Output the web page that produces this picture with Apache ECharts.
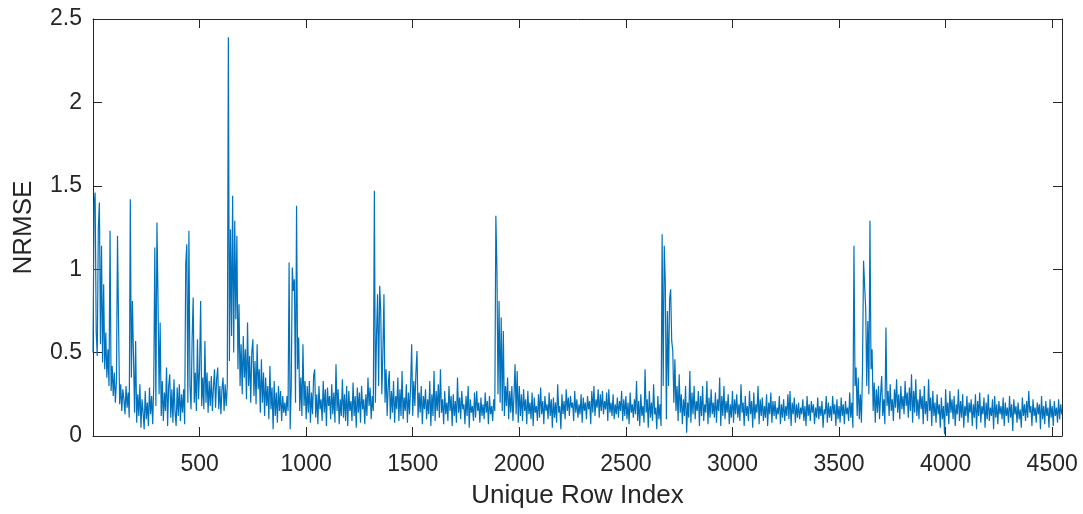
<!DOCTYPE html>
<html>
<head>
<meta charset="utf-8">
<script src="https://cdn.jsdelivr.net/npm/echarts@6/dist/echarts.min.js"></script>
<style>
  html, body { margin: 0; padding: 0; background: #fff; }
  #chart { width: 1083px; height: 514px; }
</style>
</head>
<body>
<div id="chart"></div>
<script>
// row index step between samples
var rowStep = 5;

// NRMSE per unique row: rows 0-495, 500-995, ... (one value per 5 rows)
var nrmse0000 = [0.50, 1.38, 1.46, 0.62, 0.48, 1.25, 1.40, 0.55, 1.14, 0.44,
                 0.91, 0.40, 0.62, 0.35, 0.52, 0.30, 1.23, 0.27, 0.42, 0.24,
                 0.38, 0.20, 0.33, 1.20, 0.67, 0.19, 0.31, 0.15, 0.28, 0.22,
                 0.13, 0.30, 0.17, 0.26, 0.11, 1.42, 0.35, 0.81, 0.80, 0.14,
                 0.57, 0.08, 0.25, 0.12, 0.31, 0.05, 0.22, 0.14, 0.04, 0.27,
                 0.10, 0.20, 0.06, 0.29, 0.13, 0.24, 0.07, 0.30, 1.13, 0.18,
                 1.28, 0.82, 0.25, 0.68, 0.12, 0.33, 0.09, 0.26, 0.15, 0.41,
                 0.06, 0.30, 0.37, 0.11, 0.28, 0.08, 0.34, 0.14, 0.06, 0.29,
                 0.12, 0.31, 0.09, 0.25, 0.14, 0.28, 0.07, 1.03, 1.15, 0.20,
                 1.23, 0.30, 0.16, 0.58, 0.83, 0.20, 0.38, 0.15, 0.58, 0.22];
var nrmse0500 = [0.40, 0.81, 0.18, 0.35, 0.16, 0.57, 0.20, 0.38, 0.14, 0.33,
                 0.18, 0.36, 0.15, 0.29, 0.40, 0.17, 0.34, 0.41, 0.16, 0.30,
                 0.13, 0.28, 0.35, 0.15, 0.31, 0.18, 0.30, 2.39, 0.45, 1.24,
                 0.60, 1.44, 0.50, 1.29, 0.70, 1.20, 0.40, 0.79, 0.30, 0.55,
                 0.25, 0.60, 0.35, 0.52, 0.22, 0.68, 0.30, 0.48, 0.20, 0.50,
                 0.58, 0.24, 0.45, 0.19, 0.55, 0.28, 0.40, 0.14, 0.46, 0.20,
                 0.38, 0.12, 0.35, 0.18, 0.30, 0.10, 0.42, 0.16, 0.29, 0.04,
                 0.33, 0.12, 0.26, 0.08, 0.30, 0.15, 0.27, 0.09, 0.24, 0.14,
                 0.20, 0.12, 0.24, 0.15, 1.04, 0.04, 0.30, 1.01, 0.87, 0.94,
                 0.20, 1.38, 0.40, 0.59, 0.15, 0.35, 0.12, 0.55, 0.18, 0.33];
var nrmse1000 = [0.10, 0.30, 0.14, 0.33, 0.08, 0.26, 0.13, 0.36, 0.40, 0.11,
                 0.25, 0.07, 0.30, 0.16, 0.22, 0.09, 0.33, 0.14, 0.28, 0.06,
                 0.29, 0.18, 0.24, 0.10, 0.31, 0.13, 0.26, 0.08, 0.43, 0.15,
                 0.28, 0.07, 0.22, 0.12, 0.34, 0.11, 0.25, 0.09, 0.30, 0.06,
                 0.27, 0.15, 0.21, 0.09, 0.32, 0.12, 0.24, 0.05, 0.29, 0.14,
                 0.26, 0.08, 0.30, 0.16, 0.22, 0.07, 0.25, 0.12, 0.35, 0.18,
                 0.29, 0.10, 0.24, 0.15, 1.47, 0.20, 0.60, 0.85, 0.30, 0.90,
                 0.75, 0.25, 0.50, 0.85, 0.20, 0.40, 0.12, 0.30, 0.39, 0.10,
                 0.27, 0.14, 0.33, 0.08, 0.24, 0.16, 0.35, 0.09, 0.28, 0.12,
                 0.39, 0.10, 0.23, 0.15, 0.31, 0.08, 0.26, 0.13, 0.30, 0.55];
var nrmse1500 = [0.12, 0.33, 0.18, 0.38, 0.51, 0.11, 0.26, 0.14, 0.30, 0.07,
                 0.24, 0.16, 0.28, 0.10, 0.22, 0.13, 0.33, 0.06, 0.25, 0.12,
                 0.39, 0.09, 0.27, 0.15, 0.31, 0.11, 0.40, 0.14, 0.22, 0.07,
                 0.27, 0.13, 0.20, 0.09, 0.30, 0.15, 0.24, 0.06, 0.25, 0.12,
                 0.21, 0.08, 0.35, 0.14, 0.23, 0.10, 0.27, 0.16, 0.19, 0.07,
                 0.24, 0.12, 0.30, 0.05, 0.22, 0.14, 0.18, 0.09, 0.26, 0.11,
                 0.27, 0.15, 0.20, 0.08, 0.23, 0.12, 0.19, 0.10, 0.26, 0.14,
                 0.21, 0.07, 0.24, 0.13, 0.18, 0.09, 0.22, 0.15, 1.32, 1.00,
                 0.25, 0.81, 0.20, 0.71, 0.15, 0.63, 0.12, 0.30, 0.18, 0.35,
                 0.10, 0.27, 0.14, 0.30, 0.09, 0.24, 0.43, 0.13, 0.39, 0.08];
var nrmse2000 = [0.30, 0.12, 0.25, 0.09, 0.28, 0.15, 0.22, 0.07, 0.27, 0.13,
                 0.20, 0.10, 0.26, 0.06, 0.23, 0.14, 0.18, 0.09, 0.25, 0.11,
                 0.29, 0.13, 0.21, 0.07, 0.24, 0.15, 0.19, 0.10, 0.26, 0.12,
                 0.22, 0.05, 0.23, 0.11, 0.20, 0.08, 0.31, 0.14, 0.18, 0.04,
                 0.25, 0.13, 0.21, 0.10, 0.28, 0.15, 0.23, 0.12, 0.24, 0.17,
                 0.20, 0.09, 0.27, 0.14, 0.22, 0.11, 0.19, 0.13, 0.25, 0.08,
                 0.23, 0.15, 0.20, 0.10, 0.24, 0.16, 0.21, 0.07, 0.27, 0.14,
                 0.30, 0.12, 0.22, 0.17, 0.28, 0.11, 0.25, 0.15, 0.27, 0.13,
                 0.21, 0.16, 0.26, 0.09, 0.28, 0.14, 0.20, 0.12, 0.25, 0.10,
                 0.19, 0.13, 0.23, 0.11, 0.21, 0.15, 0.27, 0.09, 0.22, 0.12];
var nrmse2500 = [0.24, 0.10, 0.20, 0.07, 0.26, 0.14, 0.19, 0.11, 0.22, 0.13,
                 0.33, 0.09, 0.21, 0.06, 0.25, 0.12, 0.18, 0.08, 0.40, 0.14,
                 0.22, 0.05, 0.27, 0.11, 0.20, 0.09, 0.31, 0.13, 0.17, 0.04,
                 0.24, 0.10, 0.19, 0.06, 1.21, 0.30, 1.14, 0.91, 0.10, 0.75,
                 0.30, 0.82, 0.88, 0.57, 0.51, 0.20, 0.46, 0.15, 0.30, 0.09,
                 0.37, 0.14, 0.25, 0.07, 0.22, 0.12, 0.30, 0.02, 0.20, 0.11,
                 0.39, 0.08, 0.26, 0.13, 0.30, 0.10, 0.21, 0.15, 0.27, 0.06,
                 0.24, 0.12, 0.30, 0.09, 0.19, 0.14, 0.33, 0.07, 0.23, 0.11,
                 0.28, 0.13, 0.20, 0.11, 0.26, 0.08, 0.22, 0.15, 0.35, 0.06,
                 0.24, 0.12, 0.30, 0.10, 0.21, 0.14, 0.25, 0.07, 0.19, 0.11];
var nrmse3000 = [0.27, 0.08, 0.22, 0.13, 0.25, 0.11, 0.19, 0.09, 0.31, 0.14,
                 0.20, 0.06, 0.24, 0.12, 0.18, 0.09, 0.27, 0.13, 0.21, 0.05,
                 0.26, 0.10, 0.19, 0.14, 0.30, 0.07, 0.22, 0.12, 0.23, 0.09,
                 0.18, 0.11, 0.25, 0.06, 0.20, 0.13, 0.26, 0.08, 0.21, 0.12,
                 0.21, 0.10, 0.17, 0.13, 0.24, 0.07, 0.19, 0.11, 0.22, 0.09,
                 0.18, 0.12, 0.25, 0.10, 0.27, 0.06, 0.20, 0.13, 0.23, 0.08,
                 0.19, 0.11, 0.20, 0.10, 0.17, 0.13, 0.22, 0.09, 0.18, 0.06,
                 0.24, 0.12, 0.19, 0.09, 0.21, 0.14, 0.19, 0.07, 0.17, 0.11,
                 0.23, 0.10, 0.18, 0.12, 0.21, 0.05, 0.16, 0.13, 0.24, 0.08,
                 0.20, 0.11, 0.18, 0.09, 0.24, 0.13, 0.19, 0.06, 0.22, 0.10];
var nrmse3500 = [0.18, 0.08, 0.23, 0.12, 0.19, 0.07, 0.21, 0.13, 0.17, 0.09,
                 0.26, 0.11, 0.20, 0.05, 1.14, 0.30, 0.41, 0.12, 0.35, 0.10,
                 0.25, 0.08, 0.40, 1.05, 0.90, 0.77, 0.30, 0.69, 0.25, 1.29,
                 0.40, 0.52, 0.15, 0.32, 0.08, 0.28, 0.14, 0.30, 0.10, 0.25,
                 0.36, 0.12, 0.22, 0.07, 0.65, 0.18, 0.27, 0.12, 0.31, 0.15,
                 0.22, 0.09, 0.28, 0.17, 0.34, 0.14, 0.25, 0.10, 0.30, 0.16,
                 0.24, 0.13, 0.33, 0.18, 0.26, 0.11, 0.29, 0.15, 0.37, 0.08,
                 0.27, 0.14, 0.34, 0.12, 0.22, 0.10, 0.28, 0.16, 0.24, 0.07,
                 0.30, 0.13, 0.21, 0.09, 0.34, 0.15, 0.23, 0.06, 0.27, 0.12,
                 0.20, 0.08, 0.25, 0.13, 0.19, 0.05, 0.23, 0.10, 0.18, 0.01];
var nrmse4000 = [0.28, 0.12, 0.20, 0.07, 0.27, 0.14, 0.22, 0.10, 0.24, 0.06,
                 0.19, 0.13, 0.28, 0.09, 0.21, 0.11, 0.25, 0.05, 0.18, 0.12,
                 0.24, 0.08, 0.20, 0.14, 0.22, 0.06, 0.19, 0.11, 0.25, 0.04,
                 0.21, 0.12, 0.26, 0.08, 0.18, 0.13, 0.23, 0.05, 0.20, 0.10,
                 0.25, 0.09, 0.17, 0.12, 0.22, 0.04, 0.24, 0.11, 0.19, 0.07,
                 0.21, 0.13, 0.18, 0.10, 0.23, 0.06, 0.20, 0.12, 0.17, 0.08,
                 0.24, 0.11, 0.19, 0.03, 0.22, 0.13, 0.18, 0.08, 0.20, 0.10,
                 0.16, 0.05, 0.23, 0.12, 0.19, 0.09, 0.21, 0.11, 0.27, 0.14,
                 0.18, 0.06, 0.22, 0.12, 0.17, 0.08, 0.20, 0.13, 0.19, 0.04,
                 0.24, 0.10, 0.18, 0.07, 0.21, 0.12, 0.17, 0.05, 0.22, 0.11];
var nrmse4500 = [0.18, 0.06, 0.21, 0.12, 0.17, 0.08, 0.22, 0.10, 0.19, 0.13];

var xTicks = [500, 1000, 1500, 2000, 2500, 3000, 3500, 4000, 4500];
var yTicks = [0, 0.5, 1, 1.5, 2, 2.5];

var allValues = [].concat(nrmse0000, nrmse0500, nrmse1000, nrmse1500, nrmse2000,
                          nrmse2500, nrmse3000, nrmse3500, nrmse4000, nrmse4500);
var points = allValues.map(function (v, k) { return [k * rowStep, v]; });

var axisColor = '#262626';
var fontName = 'Liberation Sans';

function xAxisDef(pos, showLabel) {
	return {
		type: 'value', position: pos, min: 0, max: 4546, interval: 500,
		name: showLabel ? 'Unique Row Index' : '', nameLocation: 'middle', nameGap: 47,
		nameTextStyle: { color: axisColor, fontSize: 26, fontFamily: fontName },
		axisLine: { onZero: false, lineStyle: { color: axisColor, width: 1 } },
		axisTick: { inside: true, length: 9, lineStyle: { color: axisColor } },
		axisLabel: {
			show: showLabel, margin: 17, color: axisColor, fontSize: 23, fontFamily: fontName,
			formatter: function (v) { return xTicks.indexOf(v) >= 0 ? String(v) : ''; }
		},
		splitLine: { show: false }
	};
}

function yAxisDef(pos, showLabel) {
	return {
		type: 'value', position: pos, min: 0, max: 2.5, interval: 0.5,
		name: showLabel ? 'NRMSE' : '', nameLocation: 'middle', nameGap: 56,
		nameTextStyle: { color: axisColor, fontSize: 26, fontFamily: fontName },
		axisLine: { onZero: false, lineStyle: { color: axisColor, width: 1 } },
		axisTick: { inside: true, length: 9, lineStyle: { color: axisColor } },
		axisLabel: {
			show: showLabel, margin: 11, color: axisColor, fontSize: 23, fontFamily: fontName,
			formatter: function (v) { return yTicks.indexOf(v) >= 0 ? String(v) : ''; }
		},
		splitLine: { show: false }
	};
}

var chart = echarts.init(document.getElementById('chart'), null, { renderer: 'canvas' });
chart.setOption({
	animation: false,
	backgroundColor: '#ffffff',
	grid: { left: 93, right: 21, top: 19, bottom: 78, containLabel: false },
	xAxis: [xAxisDef('bottom', true), xAxisDef('top', false)],
	yAxis: [yAxisDef('left', true), yAxisDef('right', false)],
	series: [{
		type: 'line',
		data: points,
		xAxisIndex: 0,
		yAxisIndex: 0,
		showSymbol: false,
		lineStyle: { color: '#0072BD', width: 1.2 },
		itemStyle: { color: '#0072BD' }
	}]
});
</script>
</body>
</html>
